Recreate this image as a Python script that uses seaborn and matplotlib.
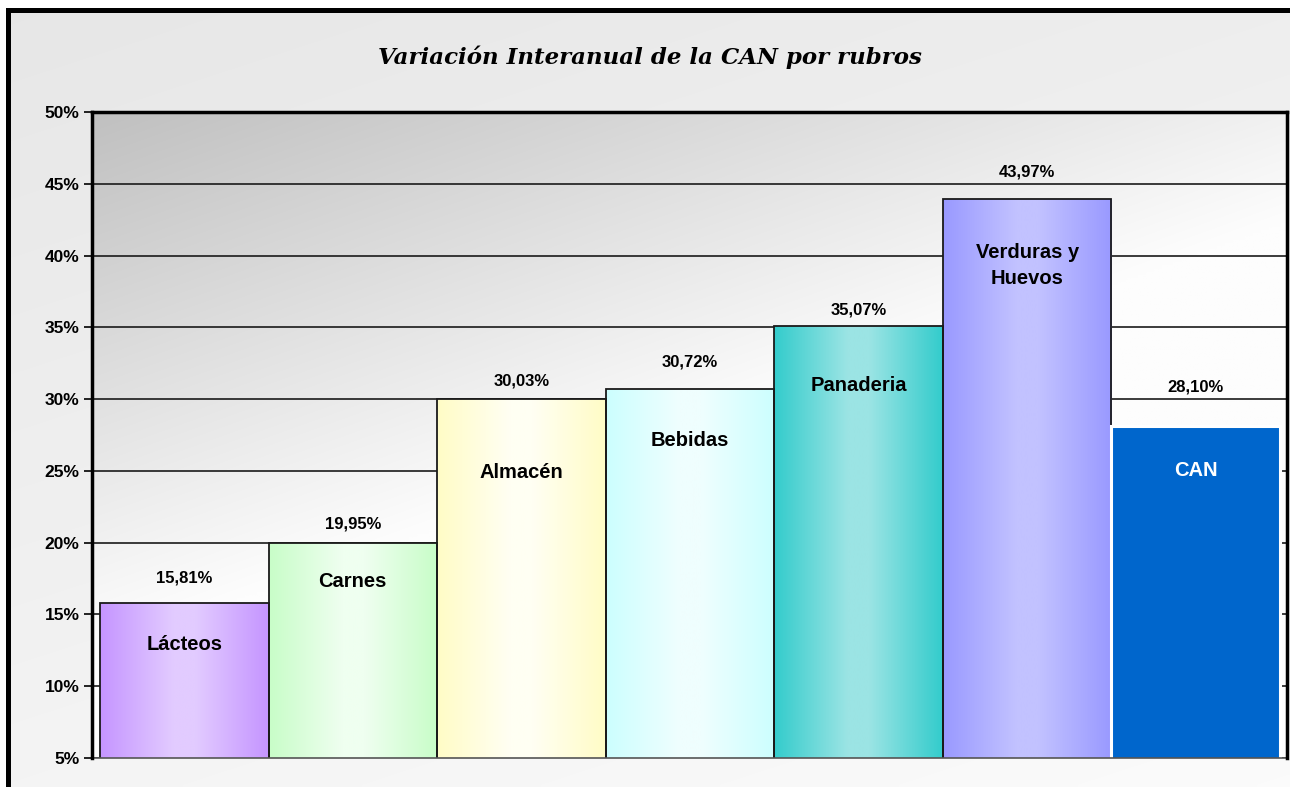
import numpy as np
import pandas as pd
import matplotlib
matplotlib.use("Agg")
import matplotlib.pyplot as plt
import seaborn as sns
from matplotlib.colors import to_rgb

# ---------------- data ----------------
categories = ["Lácteos", "Carnes", "Almacén", "Bebidas", "Panaderia", "Verduras y\nHuevos", "CAN"]
values = [15.81, 19.95, 30.03, 30.72, 35.07, 43.97, 28.10]
value_labels = ["15,81%", "19,95%", "30,03%", "30,72%", "35,07%", "43,97%", "28,10%"]
yticks = [5, 10, 15, 20, 25, 30, 35, 40, 45, 50]
ytick_labels = ["5%", "10%", "15%", "20%", "25%", "30%", "35%", "40%", "45%", "50%"]
title = "Variación Interanual de la CAN por rubros"

# ---------------- styles ----------------
edge_colors = ["#c595ff", "#c8fdc8", "#fffcc6", "#ccffff", "#33cccc", "#9999ff", "#0066cc"]
center_colors = ["#e2cbff", "#effff0", "#fffff3", "#effefe", "#9be4e4", "#c2c2ff", "#0066cc"]
text_colors = ["black"] * 6 + ["white"]
value_offsets_px = [25, 19, 18, 27, 16, 27, 39]
name_offsets_px = [42, 38, 74, 52, 59, 67, 44]

W, H = 1290, 787
sns.set_style("white")
plt.rcParams["font.family"] = ["Liberation Sans", "DejaVu Sans"]
plt.rcParams["text.color"] = "black"
plt.rcParams["ytick.color"] = "black"
fig = plt.figure(figsize=(W / 100, H / 100), dpi=100)
fig.patch.set_facecolor("white")

# ---------------- frame background ----------------
bg = fig.add_axes([0, 0, 1, 1], zorder=-5)
bg.set_xlim(0, W)
bg.set_ylim(H, 0)
ny, nx = 200, 300
yy, xx = np.mgrid[0:1:ny * 1j, 0:1:nx * 1j]
t = np.clip(0.35 * (1 - xx) + 0.65 * (1 - yy), 0, 1)
g = 0.985 - 0.08 * t
bg.imshow(np.dstack([g, g, g]), extent=[8, W, H, 10], aspect="auto",
          interpolation="bilinear", zorder=0)
bg.plot([8, 8], [H, 10], color="black", lw=3.6, solid_capstyle="projecting", zorder=2)
bg.plot([8, W], [10, 10], color="black", lw=3.6, solid_capstyle="projecting", zorder=2)
bg.axis("off")

# ---------------- main axes ----------------
ax = fig.add_axes([92 / W, 29 / H, 1195 / W, 646 / H], zorder=1)
ax.set_facecolor("none")

df = pd.DataFrame({"rubro": categories, "valor": values})
sns.barplot(data=df, x="rubro", y="valor", hue="rubro",
            palette=dict(zip(categories, edge_colors)), width=1.0, legend=False,
            saturation=1, ax=ax, edgecolor="#1a1a1a", linewidth=1.3)

xlim = (-0.547, 6.5415)
ylim = (5, 50)

# plot-area gradient
yy, xx = np.mgrid[0:1:ny * 1j, 0:1:nx * 1j]
t = np.clip(0.8 * xx + 1.2 * yy, 0, 1)
g = (192 + 61 * t) / 255
ax.imshow(np.dstack([g, g, g]), extent=[xlim[0], xlim[1], ylim[0], ylim[1]],
          origin="upper", aspect="auto", interpolation="bilinear", zorder=0.1)

# bar gradients
patches = sorted(ax.patches, key=lambda p: p.get_x())
tt = np.linspace(0, 1, 256)
w = 1 - np.abs(2 * tt - 1)
w = np.clip(w * 1.15, 0, 1)
for i, p in enumerate(patches):
    e = np.array(to_rgb(edge_colors[i]))
    c = np.array(to_rgb(center_colors[i]))
    row = e[None, :] + (c - e)[None, :] * w[:, None]
    img = row[None, :, :]
    x0 = p.get_x()
    x1 = x0 + p.get_width()
    h = p.get_height()
    im = ax.imshow(img, extent=[x0, x1, ylim[0], h], aspect="auto",
                   interpolation="bilinear", zorder=1.5)
    im.set_clip_path(p)
    p.set_zorder(2)
    if i == len(patches) - 1:
        p.set_edgecolor("white")
        p.set_linewidth(2.2)
    else:
        p.set_facecolor("none")

ax.set_xlim(*xlim)
ax.set_ylim(*ylim)

# grid
ax.set_yticks(yticks)
ax.set_yticklabels(ytick_labels, fontsize=12.5, fontweight="bold", color="black")
ax.yaxis.grid(True, color="#1a1a1a", lw=1.2, zorder=0.5)
ax.xaxis.grid(False)
ax.set_axisbelow(True)
for gl in ax.get_ygridlines():
    gl.set_zorder(0.5)
ax.set_xticks([])
ax.set_xlabel("")
ax.set_ylabel("")
ax.tick_params(axis="y", length=6, width=1.2, color="black", direction="out", pad=3, left=True)

for s in ["left", "top", "right"]:
    ax.spines[s].set_color("black")
    ax.spines[s].set_linewidth(2.5)
    ax.spines[s].set_zorder(3)
ax.spines["bottom"].set_color("#555555")
ax.spines["bottom"].set_linewidth(1.2)

# labels
for i, p in enumerate(patches):
    cx = p.get_x() + p.get_width() / 2
    top = p.get_height()
    ax.annotate(value_labels[i], (cx, top), xytext=(0, value_offsets_px[i]),
                textcoords="offset pixels", ha="center", va="center",
                fontsize=12, fontweight="bold", color="black", zorder=4)
    ax.annotate(categories[i], (cx, top), xytext=(0, -name_offsets_px[i]),
                textcoords="offset pixels", ha="center", va="center",
                fontsize=14.5, fontweight="bold", color=text_colors[i],
                linespacing=1.45, zorder=4)

fig.text(650 / W, 1 - 57 / H, title, ha="center", va="center", fontsize=16.5,
         fontweight="bold", style="italic", family=["DejaVu Serif"], color="black")

fig.savefig("out.png", dpi=100)
